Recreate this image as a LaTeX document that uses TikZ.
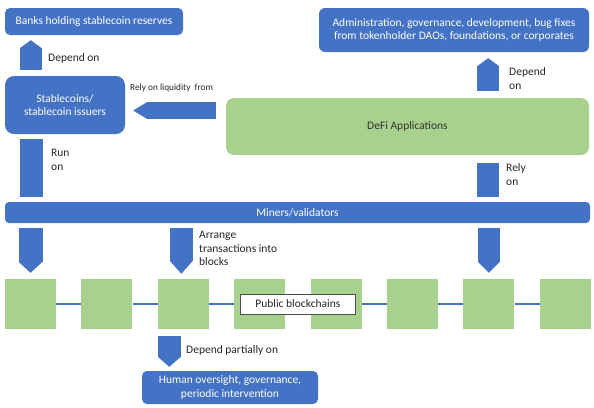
\documentclass[tikz,border=0pt]{standalone}
\usepackage{fontspec}
\setmainfont{Carlito}
\usepackage{xcolor}
\usepackage{tikz}
\usetikzlibrary{arrows.meta,calc,positioning}
\definecolor{boxblue}{HTML}{4472C4}
\definecolor{blockgreen}{HTML}{A9D18E}

\begin{document}
\begin{tikzpicture}
[x = 1pt, y = -1pt,
 font = \fontsize{11.5}{13.5}\selectfont,
 bluebox/.style = {fill = boxblue, text = white, rounded corners = 5pt, inner sep = 0pt, align = center},
 blocksq/.style = {fill = blockgreen, minimum width = 51pt, minimum height = 50pt, inner sep = 0pt},
 blockarrow/.style n args = {2}{draw = boxblue, line width = #1, -{Triangle[width = #1, length = #2, line width = 0pt]}},
 stembar/.style = {draw = boxblue, line width = #1},
 chainline/.style = {draw = boxblue, line width = 1.2pt},
 arrowtext/.style = {text = black!85, inner sep = 0pt, anchor = west, align = left}]

\useasboundingbox (0,0) rectangle (594,407);

\node[bluebox, minimum width = 178pt, minimum height = 27pt] (banks) at (94,21.5) {Banks holding stablecoin reserves};

\node[bluebox, rounded corners = 6pt, minimum width = 270pt, minimum height = 44pt] (admin) at (454,30)
{Administration, governance,\ development, bug fixes\\from tokenholder DAOs, foundations, or corporates};

\node[bluebox, rounded corners = 9pt, minimum width = 120pt, minimum height = 58pt] (stable) at (65,105) {Stablecoins/\\stablecoin issuers};

\node[fill = blockgreen, text = black!80, rounded corners = 8pt, minimum width = 363pt, minimum height = 57pt] (defi) at (407.5,126.5) {DeFi Applications};

\node[bluebox, rounded corners = 4pt, minimum width = 585pt, minimum height = 21pt] (miners) at (297.5,212.5) {Miners/validators};

\node[blocksq] (b1) at (30.5,304) {};
\node[blocksq, right = 25pt of b1] (b2) {};
\node[blocksq, right = 25pt of b2] (b3) {};
\node[blocksq, right = 25pt of b3] (b4) {};
\node[blocksq, right = 25pt of b4] (b5) {};
\node[blocksq, right = 25pt of b5] (b6) {};
\node[blocksq, right = 25pt of b6] (b7) {};
\node[blocksq, right = 25pt of b7] (b8) {};

\draw[chainline] (b1) -- (b2);
\draw[chainline] (b2) -- (b3);
\draw[chainline] (b3) -- (b4);
\draw[chainline] (b4) -- (b5);
\draw[chainline] (b5) -- (b6);
\draw[chainline] (b6) -- (b7);
\draw[chainline] (b7) -- (b8);

\node[draw = black!70, fill = white, line width = 0.8pt, text = black!85, minimum width = 115pt, minimum height = 20pt, inner sep = 0pt]
 (chain) at ($(b4)!0.5!(b5)$) {Public blockchains};

\node[bluebox, minimum width = 176pt, minimum height = 33pt] (human) at (230,387.5) {Human oversight, governance,\\periodic intervention};

% block arrows
\draw[blockarrow = {22pt}{8pt}] ($(stable.north west)+(26,-6)$) -- ($(banks.south west)+(26,5)$);
\draw[blockarrow = {17pt}{14pt}] ($(defi.west)+(-10,-16)$) -- ($(stable.east)+(8,5.5)$);
\draw[blockarrow = {22pt}{8pt}] ($(defi.north east)+(-101,-7)$) -- ($(admin.south east)+(-101,6)$);
\draw[stembar = 23pt] ($(stable.south west)+(26.5,5)$) -- ($(miners.north west)+(26.5,-5)$);
\draw[stembar = 22pt] ($(defi.south east)+(-101,8)$) -- ($(miners.north east)+(-102,-5)$);

\draw[blockarrow = {24pt}{11pt}] ($(miners.south -| b1)+(0,5)$) -- ($(b1.north)+(0,-6)$);
\draw[blockarrow = {23pt}{13pt}] ($(miners.south -| b3)+(-2,5)$) -- ($(b3.north)+(-2,-5)$);
\draw[blockarrow = {22pt}{11pt}] ($(miners.south -| b7)+(0,5)$) -- ($(b7.north)+(0,-6)$);
\draw[blockarrow = {23pt}{10pt}] ($(b3.south)+(-14,7)$) -- ($(b3.south |- human.north)+(-14,-4)$);

% arrow labels
\node[arrowtext] (dep1) at (48,58) {Depend on};
\node[arrowtext, font = \fontsize{9.3}{11}\selectfont] (liq) at (130,88) {Rely on liquidity\ \ from};
\node[arrowtext] (runon) at (51,160) {Run\\on};
\node[arrowtext] (dep2) at (509,78.5) {Depend\\on};
\node[arrowtext] (relyon) at (506,174.5) {Rely\\on};
\node[arrowtext] (arrange) at (199,248.5) {Arrange\\transactions into\\blocks};
\node[arrowtext] (deppart) at (186,350) {Depend partially on};

\end{tikzpicture}
\end{document}
